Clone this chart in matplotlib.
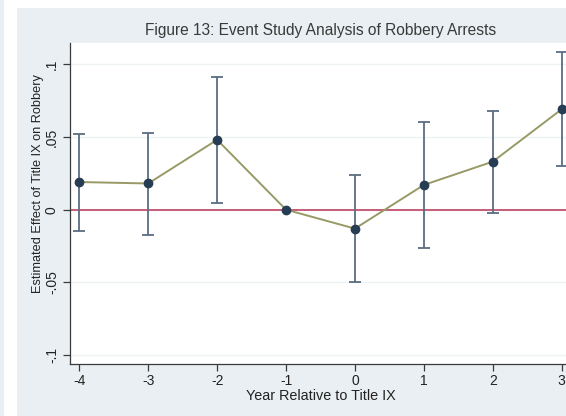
import numpy as np
import matplotlib.pyplot as plt
from matplotlib.patches import Rectangle

# event-study coefficients and 95% confidence bounds
years = [-4, -3, -2, -1, 0, 1, 2, 3]
coef = [0.019, 0.018, 0.048, 0.0, -0.013, 0.017, 0.033, 0.069]
ci_lo = [-0.0145, -0.0175, 0.0047, np.nan, -0.050, -0.026, -0.002, 0.030]
ci_hi = [0.052, 0.053, 0.091, np.nan, 0.024, 0.060, 0.068, 0.108]
yticks = [-0.1, -0.05, 0, 0.05, 0.1]
ytick_labels = ['-.1', '-.05', '0', '.05', '.1']

plt.rcParams['font.family'] = ['Liberation Sans', 'DejaVu Sans']

W, H = 566, 416
fig = plt.figure(figsize=(W / 100, H / 100), dpi=100, facecolor='white')

# Stata-style graph region background
bg = '#e9eff2'
fig.patches.append(Rectangle((17 / W, 0), 1, (H - 8) / H, transform=fig.transFigure,
                             facecolor=bg, edgecolor='none', zorder=-10))
fig.patches.append(Rectangle((0, 0), 4 / W, 1, transform=fig.transFigure,
                             facecolor=bg, edgecolor='none', zorder=-10))

# plot region runs a little past the right edge of the canvas
left, right, top, bottom = 70, 571, 43, 364
ax = fig.add_axes([left / W, (H - bottom) / H, (right - left) / W, (bottom - top) / H])
ax.set_facecolor('white')
ax.set_xlim(-4.135, 3.135)
ax.set_ylim(-0.106, 0.1145)

for s in ['top', 'right']:
    ax.spines[s].set_visible(False)
for s in ['left', 'bottom']:
    ax.spines[s].set_color('#3a3a3a')
    ax.spines[s].set_linewidth(0.9)

ax.set_yticks(yticks)
ax.set_yticklabels(ytick_labels, rotation=90, va='center')
ax.set_xticks(years)
ax.set_xticklabels([str(y) for y in years])
ax.tick_params(axis='both', colors='#3a3a3a', labelcolor='#222222', length=5,
               width=0.9, labelsize=10)
ax.tick_params(axis='y', pad=3)
ax.tick_params(axis='x', pad=2)
ax.grid(axis='y', color='#eef2f4', linewidth=1.0)
ax.set_axisbelow(True)

ax.axhline(0, color='#c4506e', linewidth=1.3, zorder=2)

y = np.array(coef)
lo = np.array(ci_lo)
hi = np.array(ci_hi)
mask = ~np.isnan(lo)
x = np.array(years)
ax.errorbar(x[mask], y[mask], yerr=[y[mask] - lo[mask], hi[mask] - y[mask]],
            fmt='none', ecolor='#5b6d82', elinewidth=1.3, capsize=4,
            capthick=1.3, zorder=3)
ax.plot(x, y, color='#989a66', linewidth=1.4, zorder=4)
ax.plot(x, y, 'o', color='#263d53', markersize=6, zorder=5)

ax.set_xlabel('Year Relative to Title IX', fontsize=10.4, color='#222222', labelpad=1)
fig.text(38 / W, 1 - 184 / H, 'Estimated Effect of Title IX on Robbery', rotation=90,
         ha='center', va='center', fontsize=9.2, color='#222222')
fig.text(320.5 / W, 1 - 31 / H, 'Figure 13: Event Study Analysis of Robbery Arrests',
         ha='center', va='center', fontsize=11.2, color='#3a3a3a')

fig.savefig('out.png', dpi=100, facecolor=fig.get_facecolor())
